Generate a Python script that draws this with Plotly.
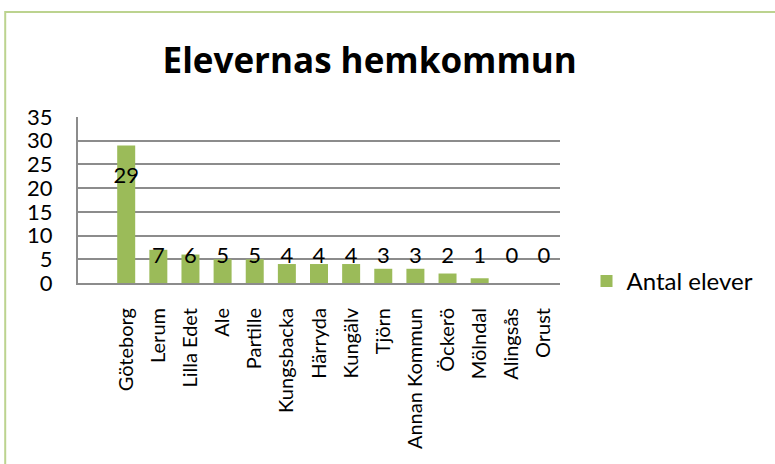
import plotly.graph_objects as go

# Data
kommuner = ['Göteborg', 'Lerum', 'Lilla Edet', 'Ale', 'Partille', 'Kungsbacka', 'Härryda',
            'Kungälv', 'Tjörn', 'Annan Kommun', 'Öckerö', 'Mölndal', 'Alingsås', 'Orust']
antal = [29, 7, 6, 5, 5, 4, 4, 4, 3, 3, 2, 1, 0, 0]
y_ticks = [0, 5, 10, 15, 20, 25, 30, 35]

green = '#9bbb59'
grid = '#8c8c8c'
font = 'Lato'

# Data labels sit a bit below the bar top, never lower than just above the gridline at 5
label_y = [max(v - 6.8, 5.3) for v in antal]

fig = go.Figure()

fig.add_trace(go.Bar(
    name='Antal elever', x=kommuner, y=antal,
    marker=dict(color=green, line=dict(width=0)),
))

fig.add_trace(go.Scatter(
    x=kommuner, y=label_y, mode='text', text=[str(v) for v in antal],
    textposition='middle center', textfont=dict(family=font, size=22, color='black'),
    showlegend=False, hoverinfo='skip',
))

fig.update_layout(
    title=dict(text='<b>Elevernas hemkommun</b>', font=dict(family='Open Sans', size=35, color='black'),
               x=0.477, xanchor='center', y=0.868, yanchor='middle', yref='container'),
    width=775, height=464,
    margin=dict(l=78, r=215, t=117, b=181),
    paper_bgcolor='white', plot_bgcolor='white',
    bargap=0.44,
    font=dict(family=font, size=22, color='black'),
    legend=dict(x=1.055, y=0.01, xanchor='left', yanchor='middle',
                font=dict(family=font, size=24, color='black'), bgcolor='rgba(0,0,0,0)'),
    showlegend=True,
)

fig.update_xaxes(
    type='category', range=[-1.5, 13.5], tickangle=-90, automargin=False,
    tickfont=dict(family=font, size=20, color='black'),
    showgrid=False, showline=True, linecolor=grid, linewidth=2, ticks='',
    ticklabelstandoff=15,
)

fig.update_yaxes(
    range=[0, 35], tickvals=y_ticks, showgrid=True, gridcolor=grid, gridwidth=2,
    showline=True, linecolor=grid, linewidth=2, zeroline=False, ticks='', automargin=False,
    tickfont=dict(family=font, size=22, color='black'), ticklabelstandoff=19,
)

# light green frame around the whole chart, like the original sheet chart
fig.add_shape(type='rect', xref='paper', yref='paper',
              x0=-0.151, x1=2, y0=-2, y1=1.633,
              line=dict(color='#bcd38f', width=2), layer='below')

# drop the browser's default page margin so the chart sits at the window's corner
fig.write_html('out.html', config={'displayModeBar': False},
               post_script="document.body.style.margin='0';")
